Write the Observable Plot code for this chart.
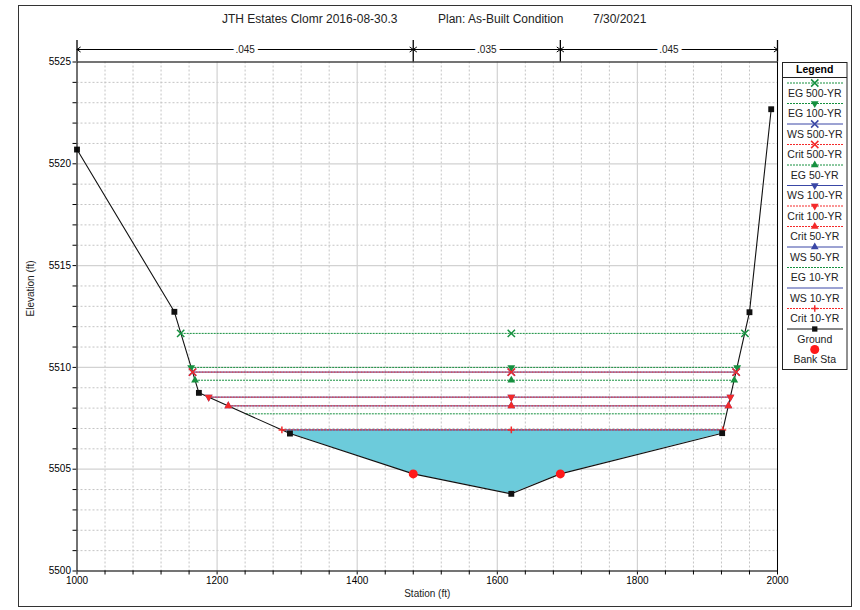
<!DOCTYPE html>
<html><head><meta charset="utf-8">
<script src="https://cdn.jsdelivr.net/npm/d3@7"></script>
<script src="https://cdn.jsdelivr.net/npm/@observablehq/plot@0.6"></script>
<style>
body{margin:0;background:#fff;}
#chart{position:relative;width:860px;height:610px;}
</style></head><body><div id="chart"></div>
<script>
// ---------- data ----------
const titleParts = ["JTH Estates Clomr 2016-08-30.3", "Plan: As-Built Condition", "7/30/2021"];
const xLabel = "Station (ft)";
const yLabel = "Elevation (ft)";
const groundSta  = [1000, 1139, 1174, 1304, 1480, 1620, 1690, 1921, 1960, 1991];
const groundElev = [5520.7, 5512.73, 5508.75, 5506.75, 5504.77, 5503.79, 5504.77, 5506.77, 5512.71, 5522.68];
const bankSta  = [1480, 1690];
const bankElev = [5504.77, 5504.77];
const nBreaks = [1000, 1480, 1690, 2000];
const nValues = [".045", ".035", ".045"];
const profiles     = ["EG 500-YR","EG 100-YR","WS 500-YR","Crit 500-YR","EG 50-YR","WS 100-YR","Crit 100-YR","Crit 50-YR","WS 50-YR","EG 10-YR","WS 10-YR","Crit 10-YR"];
const profileElev  = [5511.67, 5510.00, 5509.77, 5509.77, 5509.37, 5508.54, 5508.54, 5508.11, 5508.11, 5507.72, 5506.93, 5506.93];
const profileLeft  = [1148, 1163, 1165, 1165, 1168.5, 1188, 1188, 1216, 1216, 1241, 1292.5, 1292.5];
const profileRight = [1953.5, 1942.5, 1941, 1941, 1938.3, 1932.8, 1932.8, 1930, 1930, 1927.3, 1922, 1922];
const profileMidSta = 1620;
const filledProfile = "WS 10-YR";
const xTicks = [1000, 1200, 1400, 1600, 1800, 2000];
const xMinor = [1040,1080,1120,1160,1240,1280,1320,1360,1440,1480,1520,1560,1640,1680,1720,1760,1840,1880,1920,1960];
const yTicks = [5500, 5505, 5510, 5515, 5520, 5525];
const yMinor = [5501,5502,5503,5504,5506,5507,5508,5509,5511,5512,5513,5514,5516,5517,5518,5519,5521,5522,5523,5524];

// ---------- styles ----------
const W = 860, H = 610;
const mLeft = 76.5, mRight = 83, mTop = 61.5, mBottom = 39.5;
const ftPx = (H - mTop - mBottom) / (yTicks[yTicks.length-1] - yTicks[0]);
const staPx = (W - mLeft - mRight) / (xTicks[xTicks.length-1] - xTicks[0]);
const yTop = yTicks[yTicks.length-1], yBot = yTicks[0], xL = xTicks[0];
const yAbove = px => yTop + px / ftPx;
const yBelow = px => yBot - px / ftPx;
const xLeftOf = px => xL - px / staPx;

const green = "#16903f", blue = "#3a47a6", red = "#f42a2a", water = "#6ccbdb";
const FONT = "'Liberation Sans', Arial, Helvetica, sans-serif";
const triDown = {draw(ctx, size){
  const y = -Math.sqrt(size / (Math.sqrt(3) * 3));
  ctx.moveTo(0, -y * 2); ctx.lineTo(-Math.sqrt(3) * y, y); ctx.lineTo(Math.sqrt(3) * y, y); ctx.closePath();
}};
const typeColor = {EG: green, WS: blue, Crit: red};
const typeDash = {EG: "2,1", WS: null, Crit: "2,1"};
const profileSym = ["times", triDown, "times", "times", "triangle", triDown, triDown, "triangle", "triangle", null, null, "plus"];
const symR = s => s === "times" ? 3.4 : s === "plus" ? 2.3 : 2.9;
const strokeSym = s => s === "times" || s === "plus";
const d3Sym = s => s === "times" ? d3.symbolTimes : s === "plus" ? d3.symbolPlus : s === "triangle" ? d3.symbolTriangle : s;

// ---------- derived tables ----------
const ground = groundSta.map((x, i) => ({x, y: groundElev[i]}));
const banks = bankSta.map((x, i) => ({x, y: bankElev[i]}));
const prof = profiles.map((name, i) => ({name, type: name.split(" ")[0], elev: profileElev[i], left: profileLeft[i], right: profileRight[i], sym: profileSym[i]}));
const fp = prof.find(p => p.name === filledProfile);
const fillPts = [{x: fp.left, y: fp.elev}, ...ground.filter(g => g.x > fp.left && g.x < fp.right), {x: fp.right, y: fp.elev}];
const segs = nValues.map((t, i) => ({a: nBreaks[i], b: nBreaks[i+1], m: (nBreaks[i] + nBreaks[i+1]) / 2, t}));

const drawOrder = ["EG", "WS", "Crit"];
const marks = [
  Plot.ruleX(xMinor, {stroke: "#c4c4c4", strokeDasharray: "2,2"}),
  Plot.ruleY(yMinor, {stroke: "#c4c4c4", strokeDasharray: "2,2"}),
  Plot.ruleX(xTicks, {stroke: "#d2d2d2", strokeWidth: 1.2}),
  Plot.ruleY(yTicks, {stroke: "#d2d2d2", strokeWidth: 1.2}),
  Plot.areaY(fillPts, {x: "x", y1: "y", y2: () => fp.elev, fill: water, curve: "linear"}),
];
for (const t of drawOrder) {
  for (const p of prof.filter(p => p.type === t)) {
    marks.push(Plot.link([p], {x1: "left", x2: "right", y1: "elev", y2: "elev", stroke: typeColor[t], strokeWidth: 1, strokeDasharray: typeDash[t]}));
  }
}
marks.push(Plot.line(ground, {x: "x", y: "y", stroke: "#111", strokeWidth: 1.1}));
for (const t of drawOrder) {
  for (const p of prof.filter(p => p.type === t && p.sym)) {
    const pts = [p.left, profileMidSta, p.right].map(x => ({x, y: p.elev}));
    const s = p.sym;
    marks.push(Plot.dot(pts, strokeSym(s)
      ? {x: "x", y: "y", symbol: s, r: symR(s), stroke: typeColor[t], strokeWidth: 1.5, fill: "none"}
      : {x: "x", y: "y", symbol: s, r: symR(s), fill: typeColor[t], stroke: "none"}));
  }
}
marks.push(
  Plot.dot(ground, {x: "x", y: "y", symbol: "square", r: 3.3, fill: "#111"}),
  Plot.dot(banks, {x: "x", y: "y", r: 4.5, fill: "#ff1a1a"}),
  Plot.frame({stroke: "#000"}),
  // minor ticks
  Plot.ruleX(xMinor, {y1: yBot, y2: yBelow(4), stroke: "#000"}),
  Plot.ruleY(yMinor, {x1: xL, x2: xLeftOf(4), stroke: "#000"}),
  // Manning's n annotation
  Plot.ruleX(nBreaks, {y1: yTop, y2: yAbove(21.5), stroke: "#000", strokeWidth: 1.3}),
  Plot.arrow(segs, {x1: "m", x2: "a", y1: () => yAbove(12.5), y2: () => yAbove(12.5), stroke: "#000", strokeWidth: 1, headLength: 6, headAngle: 70}),
  Plot.arrow(segs, {x1: "m", x2: "b", y1: () => yAbove(12.5), y2: () => yAbove(12.5), stroke: "#000", strokeWidth: 1, headLength: 6, headAngle: 70}),
  Plot.text(segs, {x: "m", y: () => yAbove(12.5), text: "t", fill: "#222", stroke: "white", strokeWidth: 7, fontSize: 10}),
  Plot.text([yLabel], {frameAnchor: "left", text: d => d, rotate: -90, dx: -46, fontSize: 10, fill: "#222"}),
  Plot.text([xLabel], {frameAnchor: "bottom", text: d => d, dy: 26, fontSize: 10, fill: "#222"})
);

const svg = Plot.plot({
  width: W, height: H,
  marginLeft: mLeft, marginRight: mRight, marginTop: mTop, marginBottom: mBottom,
  style: {fontFamily: FONT, fontSize: "10px", color: "#000", background: "white", overflow: "visible"},
  x: {domain: [xTicks[0], xTicks[xTicks.length-1]], ticks: xTicks, tickSize: 4, tickPadding: 2, tickFormat: d => String(d), label: null},
  y: {domain: [yTicks[0], yTicks[yTicks.length-1]], ticks: yTicks, tickSize: 4, tickPadding: 2, tickFormat: d => String(d), label: null},
  marks
});

// ---------- title, legend, outer frame ----------
const g = d3.select(svg).append("g").attr("font-family", FONT);
g.append("rect").attr("x", 18.5).attr("y", 5.5).attr("width", 833).attr("height", 601)
  .attr("fill", "none").attr("stroke", "#333");
const titleX = [222, 438, 593];
titleParts.forEach((t, i) => g.append("text").attr("x", titleX[i]).attr("y", 23).attr("text-anchor", "start")
  .attr("font-size", 12).attr("fill", "#222").text(t));

const lg = g.append("g");
const lx0 = 782.5, lx1 = 847, lcx = (lx0 + lx1) / 2;
lg.append("rect").attr("x", lx0).attr("y", 62.5).attr("width", lx1 - lx0).attr("height", 307).attr("fill", "white").attr("stroke", "#222");
lg.append("text").attr("x", lcx).attr("y", 73).attr("text-anchor", "middle").attr("font-size", 10.5).attr("font-weight", "bold").text("Legend");
lg.append("line").attr("x1", lx0).attr("x2", lx1).attr("y1", 77.5).attr("y2", 77.5).attr("stroke", "#222");
const legendItems = [...prof.map(p => ({name: p.name, color: typeColor[p.type], dash: typeDash[p.type], sym: p.sym})),
  {name: "Ground", color: "#111", dash: null, sym: d3.symbolSquare, r: 3.0},
  {name: "Bank Sta", color: "#ff1a1a", dash: "none", sym: d3.symbolCircle, r: 4.5}];
legendItems.forEach((it, i) => {
  const y = 83 + 20.5 * i;
  if (it.dash !== "none") {
    const ln = lg.append("line").attr("x1", 787).attr("x2", 843).attr("y1", y).attr("y2", y).attr("stroke", it.color).attr("stroke-width", 1);
    if (it.dash) ln.attr("stroke-dasharray", it.dash);
  }
  if (it.sym) {
    const s = it.sym;
    const r = it.r || symR(s);
    const path = d3.symbol(d3Sym(s), Math.PI * r * r)();
    const el = lg.append("path").attr("d", path).attr("transform", `translate(${lcx},${y})`);
    if (strokeSym(s)) el.attr("fill", "none").attr("stroke", it.color).attr("stroke-width", 1.5);
    else el.attr("fill", it.color);
  }
  lg.append("text").attr("x", lcx).attr("y", y + 13.5).attr("text-anchor", "middle").attr("font-size", 10.5).attr("fill", "#222").text(it.name);
});

document.getElementById("chart").appendChild(svg);
</script>
</body></html>
